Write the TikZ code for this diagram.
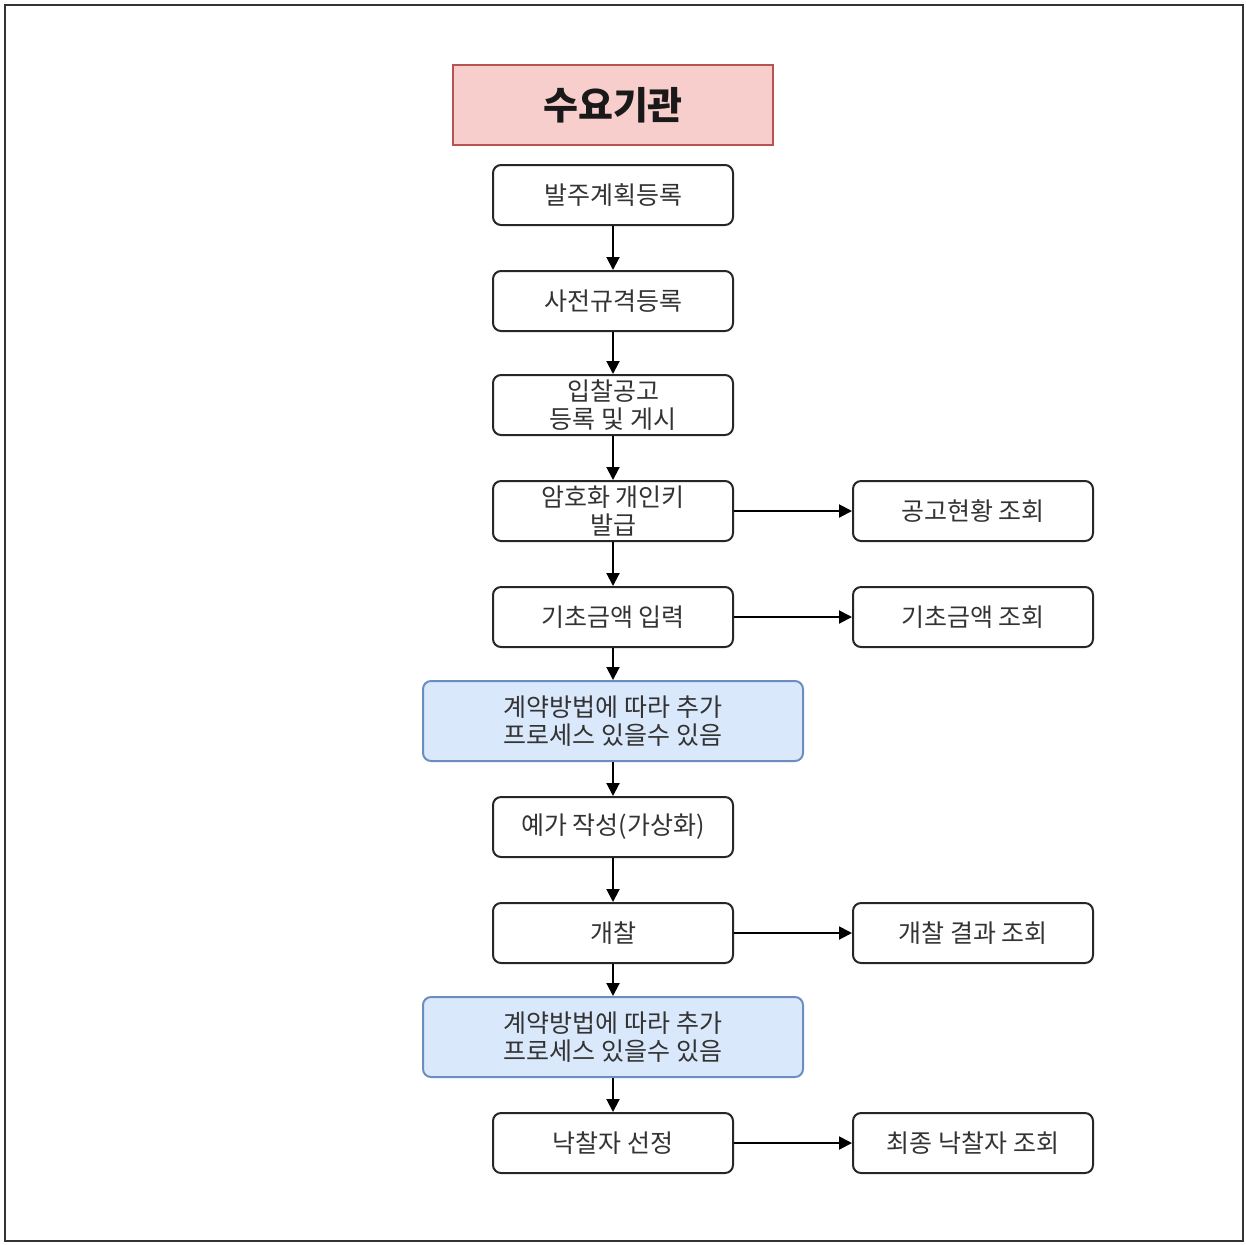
\documentclass[tikz,border=0pt]{standalone}
\usepackage{fontspec}
\setmainfont{Noto Sans CJK KR}
\usetikzlibrary{arrows.meta}
\definecolor{pinkfill}{HTML}{F8CECC}
\definecolor{pinkline}{HTML}{B85450}
\definecolor{bluefill}{HTML}{DAE8FC}
\definecolor{blueline}{HTML}{6C8EBF}
\tikzset{
	stepbox/.style={draw=black!85, line width=1pt, rounded corners=4pt, fill=white,
		minimum width=120pt, minimum height=30pt, align=center, text=black!80,
		font=\fontsize{12.5}{14}\selectfont, inner sep=0pt},
	notebox/.style={stepbox, draw=blueline, fill=bluefill, minimum width=190pt, minimum height=40pt},
	titlebox/.style={draw=pinkline, fill=pinkfill, line width=0.8pt, minimum width=160pt,
		minimum height=40pt, font=\fontsize{19}{22}\selectfont\bfseries, text=black!90},
	flow/.style={line width=1pt, -{Triangle[length=6.5pt, width=6.5pt]}}
}

\begin{document}
\begin{tikzpicture}[x=0.5pt, y=-0.5pt]
			%%%%% START %%%%%
			\useasboundingbox (0, 0) rectangle (1246, 1244);
			\draw[line width=1pt, color=black!80] (5, 5) rectangle (1243, 1241);
			
			\node[titlebox] (title) at (613, 105) {수요기관};
			
			% main column
			\node[stepbox] (plan) at (613, 195) {발주계획등록};
			\node[stepbox] (spec) at (613, 301) {사전규격등록};
			\node[stepbox] (notice) at (613, 405) {입찰공고\\등록 및 게시};
			\node[stepbox] (key) at (613, 511) {암호화 개인키\\발급};
			\node[stepbox] (base) at (613, 617) {기초금액 입력};
			\node[notebox] (extraA) at (613, 721) {계약방법에 따라 추가\\프로세스 있을수 있음};
			\node[stepbox] (price) at (613, 827) {예가 작성(가상화)};
			\node[stepbox] (open) at (613, 933) {개찰};
			\node[notebox] (extraB) at (613, 1037) {계약방법에 따라 추가\\프로세스 있을수 있음};
			\node[stepbox] (winner) at (613, 1143) {낙찰자 선정};
			
			% right column
			\node[stepbox] (noticeview) at (973, 511) {공고현황 조회};
			\node[stepbox] (baseview) at (973, 617) {기초금액 조회};
			\node[stepbox] (openview) at (973, 933) {개찰 결과 조회};
			\node[stepbox] (winnerview) at (973, 1143) {최종 낙찰자 조회};
			
			\draw[flow] (plan) -- (spec);
			\draw[flow] (spec) -- (notice);
			\draw[flow] (notice) -- (key);
			\draw[flow] (key) -- (base);
			\draw[flow] (base) -- (extraA);
			\draw[flow] (extraA) -- (price);
			\draw[flow] (price) -- (open);
			\draw[flow] (open) -- (extraB);
			\draw[flow] (extraB) -- (winner);
			
			\draw[flow] (key) -- (noticeview);
			\draw[flow] (base) -- (baseview);
			\draw[flow] (open) -- (openview);
			\draw[flow] (winner) -- (winnerview);
			%%%%% END %%%%%
\end{tikzpicture}
\end{document}
